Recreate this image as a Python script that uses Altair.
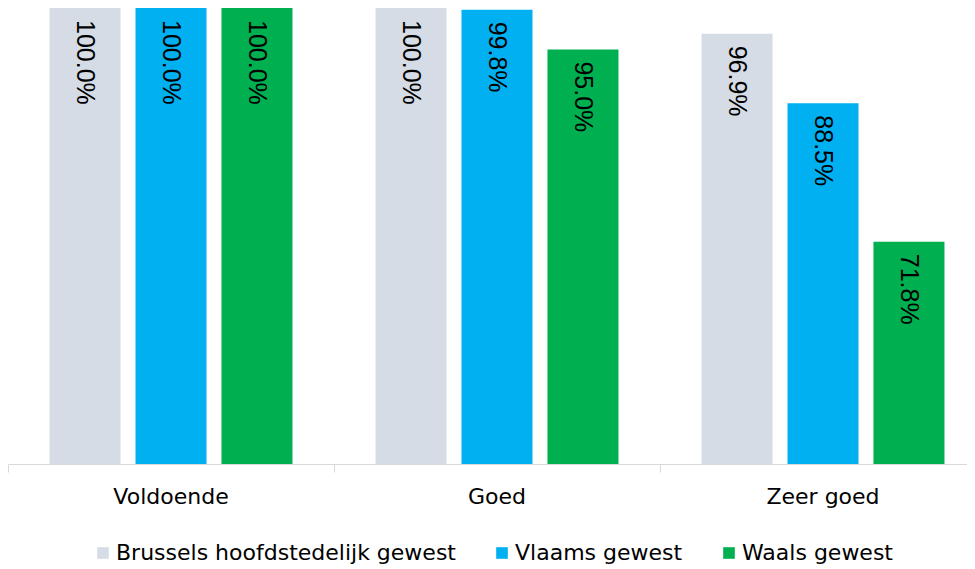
import altair as alt
import pandas as pd

categories = ["Voldoende", "Goed", "Zeer goed"]
series = ["Brussels hoofdstedelijk gewest", "Vlaams gewest", "Waals gewest"]
brussels = [100.0, 100.0, 96.9]
vlaams = [100.0, 99.8, 88.5]
waals = [100.0, 95.0, 71.8]
colors = ["#D6DCE5", "#00B0F0", "#00B050"]

rows = []
for i, c in enumerate(categories):
    for s, vals in zip(series, [brussels, vlaams, waals]):
        rows.append({"cat": c, "series": s, "value": vals[i]})
df = pd.DataFrame(rows)

x = alt.X("cat:N", sort=categories, title=None,
          scale=alt.Scale(paddingInner=0, paddingOuter=0, range=[0, 978]),
          axis=alt.Axis(bandPosition=0, labelAngle=0,
                        tickSize=8, tickColor="#d9d9d9", domainColor="#d9d9d9",
                        labelFontSize=22, labelFont="DejaVu Sans", labelColor="#000000",
                        labelPadding=14))
xo = alt.XOffset("series:N", sort=series,
                 scale=alt.Scale(paddingInner=0.174, paddingOuter=0.483))
y = alt.Y("value:Q", scale=alt.Scale(domain=[45, 100], nice=False, zero=False),
          axis=None)

bars = alt.Chart(df).mark_bar().encode(
    x=x, xOffset=xo, y=y, y2=alt.datum(45),
    color=alt.Color("series:N", sort=series,
                    scale=alt.Scale(domain=series, range=colors),
                    legend=alt.Legend(title=None, orient="none", direction="horizontal",
                                      legendX=84, legendY=534,
                                      symbolType="square", symbolSize=135,
                                      symbolStrokeWidth=0, labelLimit=0,
                                      labelFontSize=22, labelFont="DejaVu Sans",
                                      labelColor="#000000", columnPadding=35,
                                      labelOffset=2)),
)

text = alt.Chart(df).transform_calculate(
    label="format(datum.value, '.1f') + '%'"
).mark_text(angle=90, align="left", baseline="middle", dx=12,
            font="Liberation Sans", fontSize=25, color="#000000").encode(
    x=x, xOffset=xo, y=y, text="label:N"
)

chart = (bars + text).properties(
    width=959, height=456,
    padding={"left": 0, "top": 0, "right": 0, "bottom": 105},
    autosize=alt.AutoSizeParams(type="none"),
).configure_view(stroke=None)
chart.save("out.html", embed_options={"renderer": "svg", "actions": False})
